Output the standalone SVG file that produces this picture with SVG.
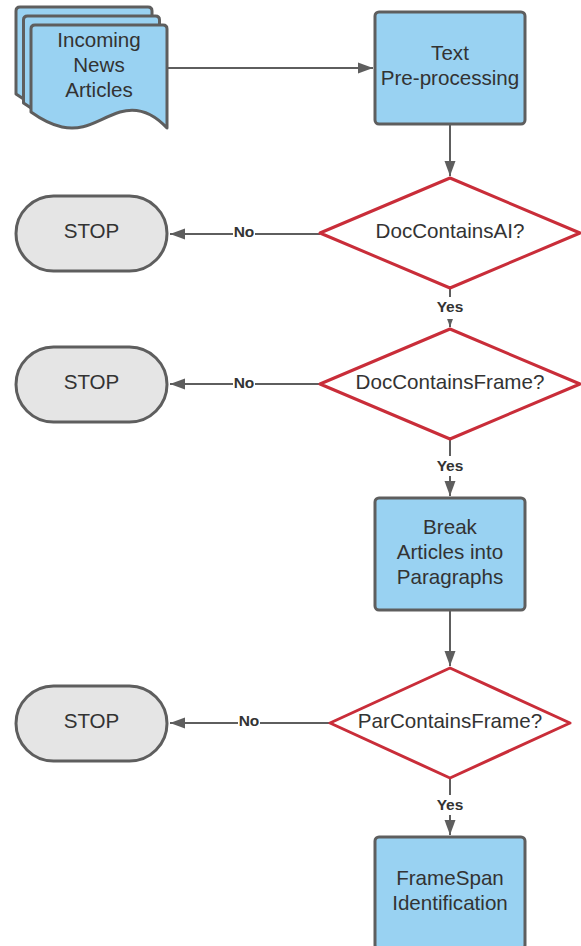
<svg xmlns="http://www.w3.org/2000/svg" width="581" height="946" viewBox="0 0 581 946">
<defs>
<style>
.box{fill:#99d2f2;stroke:#5e5e5e;stroke-width:3;stroke-linejoin:round}
.stop{fill:#e5e5e5;stroke:#5e5e5e;stroke-width:3}
.dia{fill:#ffffff;stroke:#c92d39;stroke-width:3;stroke-linejoin:round}
.t{font-family:"Liberation Sans",Arial,sans-serif;font-size:20.6px;fill:#333333;text-anchor:middle}
.lbl{font-family:"Liberation Sans",Arial,sans-serif;font-size:15.5px;font-weight:bold;fill:#333333;text-anchor:middle}
.ln{fill:none;stroke:#5e5e5e;stroke-width:2}
.bg{fill:#ffffff}
</style>
<marker id="arr" markerUnits="userSpaceOnUse" markerWidth="16" markerHeight="12" viewBox="0 0 16 12" refX="15" refY="6" orient="auto">
<path d="M0,0.5 L15,6 L0,11.5 Z" fill="#5e5e5e"/>
</marker>
<path id="doc" d="M35,25 H163 Q167,25 167,29 V128 C155,115 140,106 120,112 C98,119 85,132 62,127 C48,124 38,117 31,112 V29 Q31,25 35,25 Z"/>
</defs>
<g id="connectors">
<line class="ln" x1="168" y1="68" x2="373" y2="68" marker-end="url(#arr)"/>
<line class="ln" x1="450" y1="124" x2="450" y2="176" marker-end="url(#arr)"/>
<line class="ln" x1="450" y1="288" x2="450" y2="327" marker-end="url(#arr)"/>
<line class="ln" x1="450" y1="439" x2="450" y2="496" marker-end="url(#arr)"/>
<line class="ln" x1="450" y1="610" x2="450" y2="666" marker-end="url(#arr)"/>
<line class="ln" x1="450" y1="778" x2="450" y2="835" marker-end="url(#arr)"/>
<line class="ln" x1="320" y1="234" x2="170" y2="234" marker-end="url(#arr)"/>
<line class="ln" x1="320" y1="384" x2="170" y2="384" marker-end="url(#arr)"/>
<line class="ln" x1="330" y1="723" x2="170" y2="723" marker-end="url(#arr)"/>
<rect class="bg" x="434" y="297" width="32" height="22"/>
<text class="lbl" x="450" y="312">Yes</text>
<rect class="bg" x="434" y="456" width="32" height="20"/>
<text class="lbl" x="450" y="471">Yes</text>
<rect class="bg" x="434" y="795" width="32" height="20"/>
<text class="lbl" x="450" y="810">Yes</text>
<rect class="bg" x="233" y="224" width="22" height="18"/>
<text class="lbl" x="244" y="237">No</text>
<rect class="bg" x="233" y="375" width="22" height="18"/>
<text class="lbl" x="244" y="388">No</text>
<rect class="bg" x="238" y="713" width="22" height="18"/>
<text class="lbl" x="249" y="726">No</text>
</g>
<g id="incoming">
<use href="#doc" class="box" transform="translate(-15,-18)"/>
<use href="#doc" class="box" transform="translate(-7.5,-9)"/>
<use href="#doc" class="box"/>
<text class="t" x="99" y="47">Incoming</text>
<text class="t" x="99" y="72">News</text>
<text class="t" x="99" y="97">Articles</text>
</g>
<g id="preprocess">
<rect class="box" x="375" y="12" width="150" height="112" rx="4"/>
<text class="t" x="450" y="60">Text</text>
<text class="t" x="450" y="85">Pre-processing</text>
</g>
<g id="dec1">
<path class="dia" d="M450,178 L580,233 L450,288 L320,233 Z"/>
<text class="t" x="450" y="238">DocContainsAI?</text>
</g>
<g id="stop1">
<rect class="stop" x="16" y="196" width="151" height="75" rx="37.5"/>
<text class="t" x="91.5" y="238">STOP</text>
</g>
<g id="dec2">
<path class="dia" d="M450,329 L580,384 L450,439 L320,384 Z"/>
<text class="t" x="450" y="389">DocContainsFrame?</text>
</g>
<g id="stop2">
<rect class="stop" x="16" y="347" width="151" height="75" rx="37.5"/>
<text class="t" x="91.5" y="389">STOP</text>
</g>
<g id="break">
<rect class="box" x="375" y="498" width="150" height="112" rx="4"/>
<text class="t" x="450" y="534">Break</text>
<text class="t" x="450" y="559">Articles into</text>
<text class="t" x="450" y="584">Paragraphs</text>
</g>
<g id="dec3">
<path class="dia" d="M450,668 L570,723 L450,778 L330,723 Z"/>
<text class="t" x="450" y="728">ParContainsFrame?</text>
</g>
<g id="stop3">
<rect class="stop" x="16" y="686" width="151" height="75" rx="37.5"/>
<text class="t" x="91.5" y="728">STOP</text>
</g>
<g id="framespan">
<rect class="box" x="375" y="837" width="150" height="112" rx="4"/>
<text class="t" x="450" y="885">FrameSpan</text>
<text class="t" x="450" y="910">Identification</text>
</g>
</svg>
